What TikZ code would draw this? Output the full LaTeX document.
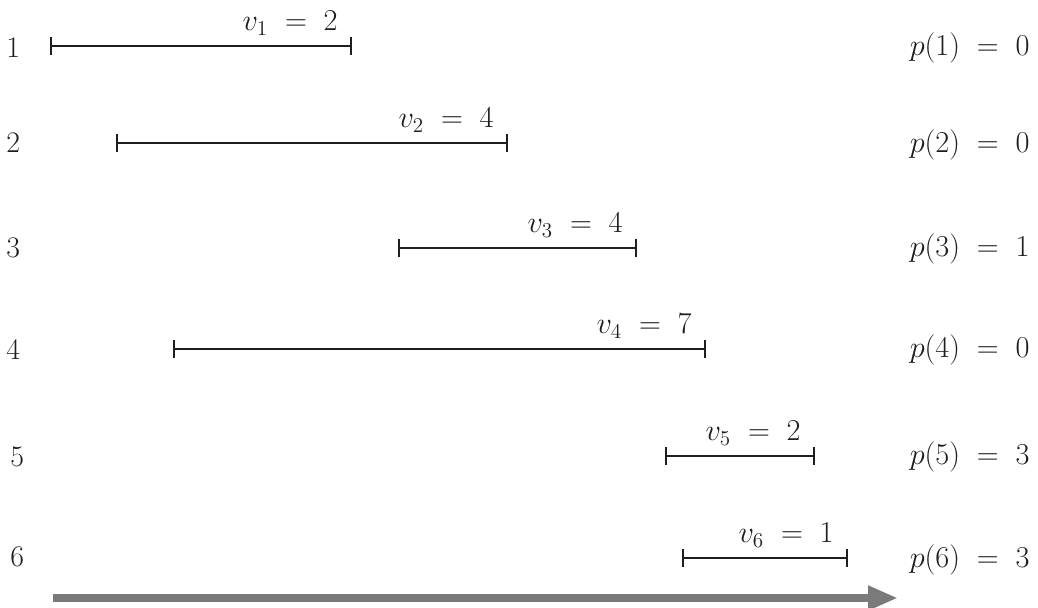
\documentclass[tikz,border=0pt]{standalone}
\usepackage{xcolor}
\definecolor{ivink}{HTML}{1E1E1E}
\definecolor{ivgray}{HTML}{7A7A7A}
\usepackage{tikz}
\usetikzlibrary{arrows.meta,positioning}

\begin{document}
\begin{tikzpicture}[
  x=0.02cm, y=-0.02cm,
  job/.style={{Bar[width=3.6mm]}-{Bar[width=3.6mm]}, line width=1.1pt, color=ivink},
  idx/.style={anchor=west, font=\fontsize{17}{20}\selectfont, text=ivink, inner sep=0pt},
  val/.style={anchor=south east, font=\fontsize{17}{20}\selectfont, text=ivink, inner sep=0pt},
  pred/.style={anchor=east, font=\fontsize{17}{20}\selectfont, text=ivink, inner sep=0pt},
  timeline/.style={-{Triangle[length=6mm, width=4.6mm]}, line width=4.6pt, color=ivgray}
]
  \useasboundingbox (0,0) rectangle (1038,608);

  % start / finish of each job
  \coordinate (s1) at (50,46);   \coordinate (f1) at (352,46);
  \coordinate (s2) at (116,143); \coordinate (f2) at (508,143);
  \coordinate (s3) at (398,248); \coordinate (f3) at (637,248);
  \coordinate (s4) at (173,349); \coordinate (f4) at (706,349);
  \coordinate (s5) at (665,456); \coordinate (f5) at (815,456);
  \coordinate (s6) at (682,558); \coordinate (f6) at (848,558);

  \draw[job] (s1) -- (f1);
  \draw[job] (s2) -- (f2);
  \draw[job] (s3) -- (f3);
  \draw[job] (s4) -- (f4);
  \draw[job] (s5) -- (f5);
  \draw[job] (s6) -- (f6);

  % job numbers
  \node[idx] (n1) at (6,48) {1};
  \node[idx] (n2) at (6,143) {2};
  \node[idx] (n3) at (6,248) {3};
  \node[idx] (n4) at (6,350) {4};
  \node[idx] (n5) at (10,457) {5};
  \node[idx] (n6) at (10,557) {6};

  % weights
  \node[val] (v1) at ([xshift=-14*0.02cm, yshift=6pt]f1) {$v_1 \;=\; 2$};
  \node[val] (v2) at ([xshift=-14*0.02cm, yshift=6pt]f2) {$v_2 \;=\; 4$};
  \node[val] (v3) at ([xshift=-14*0.02cm, yshift=6pt]f3) {$v_3 \;=\; 4$};
  \node[val] (v4) at ([xshift=-14*0.02cm, yshift=6pt]f4) {$v_4 \;=\; 7$};
  \node[val] (v5) at ([xshift=-14*0.02cm, yshift=6pt]f5) {$v_5 \;=\; 2$};
  \node[val] (v6) at ([xshift=-14*0.02cm, yshift=6pt]f6) {$v_6 \;=\; 1$};

  % predecessors
  \node[pred] (p1) at (1030,48) {$p(1) \;=\; 0$};
  \node[pred] (p2) at (1030,145) {$p(2) \;=\; 0$};
  \node[pred] (p3) at (1030,249) {$p(3) \;=\; 1$};
  \node[pred] (p4) at (1030,350) {$p(4) \;=\; 0$};
  \node[pred] (p5) at (1030,457) {$p(5) \;=\; 3$};
  \node[pred] (p6) at (1030,560) {$p(6) \;=\; 3$};

  % time axis
  \coordinate (t0) at (53,598);
  \coordinate (t1) at (898,598);
  \draw[timeline] (t0) -- (t1);
\end{tikzpicture}
\end{document}
